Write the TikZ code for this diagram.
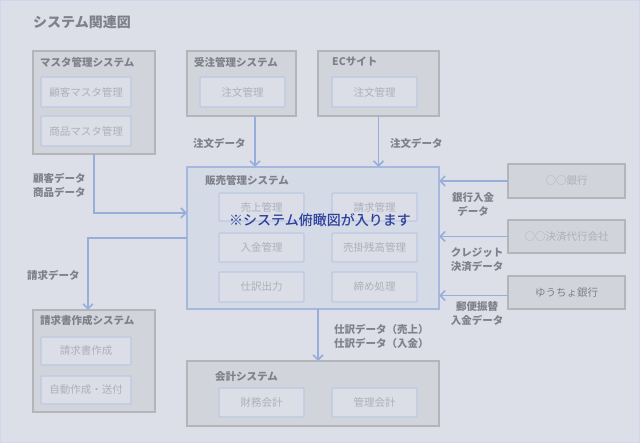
\documentclass[tikz,border=0pt]{standalone}
\usepackage{fontspec}
\setmainfont{Noto Sans CJK JP}
\newfontfamily\medjp{Noto Sans CJK JP}[UprightFont=* Medium]
\usetikzlibrary{arrows.meta}
\definecolor{bg}{HTML}{DCDFE8}
\definecolor{edge}{HTML}{D0D7EC}
\definecolor{outerfill}{HTML}{D2D4DC}
\definecolor{outerdraw}{HTML}{B3B5BB}
\definecolor{innerfill}{HTML}{DBDEE7}
\definecolor{innerdraw}{HTML}{BCC8E3}
\definecolor{innertext}{HTML}{ADB0B8}
\definecolor{titletext}{HTML}{7E8189}
\definecolor{arrowcol}{HTML}{97AEDA}
\definecolor{salesfill}{HTML}{D5DAE7}
\definecolor{salesdraw}{HTML}{A6B8DE}
\definecolor{overlaytext}{HTML}{2D409C}
\tikzset{
  x=1pt, y=-1pt,
  outerbox/.style={anchor=north west, inner sep=0pt, outer sep=0pt, fill=outerfill, draw=outerdraw, line width=1.8pt},
  salesbox/.style={anchor=north west, inner sep=0pt, outer sep=0pt, fill=salesfill, draw=salesdraw, line width=1.8pt},
  innerbox/.style={anchor=north west, inner sep=0pt, outer sep=0pt, fill=innerfill, draw=innerdraw, line width=1.2pt, rounded corners=1pt, text=innertext, font=\fontsize{10.5}{12}\selectfont},
  boxtitle/.style={anchor=west, inner sep=0pt, text=titletext, font=\fontsize{10.5}{12}\selectfont\bfseries},
  lbl/.style={inner sep=0pt, text=titletext, font=\fontsize{10.5}{14}\selectfont\bfseries},
  arr/.style={draw=arrowcol, line width=1.8pt, -{Straight Barb[length=5pt,width=10pt,line width=1.6pt]}},
}
\begin{document}
\begin{tikzpicture}
\useasboundingbox (0,0) rectangle (640,443);
\fill[bg] (0,0) rectangle (640,443);
\draw[edge, line width=1pt] (0.5,0.5) rectangle (639.5,442.5);

\node[anchor=west, inner sep=0pt, text=titletext, font=\fontsize{14}{16}\selectfont\bfseries] (title) at (33,22) {システム関連図};

% master
\node[outerbox, minimum width=122pt, minimum height=103pt] (m) at (33,51) {};
\node[boxtitle] (mt) at (40,62) {マスタ管理システム};
\node[innerbox, minimum width=90pt, minimum height=30pt] (m1) at (41,77) {顧客マスタ管理};
\node[innerbox, minimum width=90pt, minimum height=30pt] (m2) at (41,116) {商品マスタ管理};

% order
\node[outerbox, minimum width=109pt, minimum height=65pt] (o) at (187,51) {};
\node[boxtitle] (ot) at (194,62) {受注管理システム};
\node[innerbox, minimum width=85pt, minimum height=30pt] (o1) at (200,77) {注文管理};

% EC
\node[outerbox, minimum width=121pt, minimum height=65pt] (e) at (318,51) {};
\node[boxtitle] (et) at (332,62) {ECサイト};
\node[innerbox, minimum width=85pt, minimum height=30pt] (e1) at (332,77) {注文管理};

% sales
\node[salesbox, minimum width=252pt, minimum height=142pt] (s) at (187,167) {};
\node[boxtitle] (st) at (205,180) {販売管理システム};
\node[innerbox, minimum width=85pt, minimum height=28pt] (s1) at (219,193) {売上管理};
\node[innerbox, minimum width=85pt, minimum height=28pt] (s2) at (332,193) {請求管理};
\node[innerbox, minimum width=85pt, minimum height=29pt] (s3) at (219,233) {入金管理};
\node[innerbox, minimum width=85pt, minimum height=29pt] (s4) at (332,233) {売掛残高管理};
\node[innerbox, minimum width=85pt, minimum height=30pt] (s5) at (219,272) {仕訳出力};
\node[innerbox, minimum width=85pt, minimum height=30pt] (s6) at (332,272) {締め処理};
\node[inner sep=0pt, text=overlaytext, font=\fontsize{14}{16}\selectfont\medjp] (ov) at (320,220) {※システム俯瞰図が入ります};

% banks
\node[outerbox, minimum width=117pt, minimum height=34pt, text=innertext, font=\fontsize{10.5}{12}\selectfont] (b1) at (508,164) {○○銀行};
\node[outerbox, minimum width=117pt, minimum height=33pt, text=innertext, font=\fontsize{10.5}{12}\selectfont] (b2) at (508,220) {○○決済代行会社};
\node[outerbox, minimum width=117pt, minimum height=33pt, text=titletext, font=\fontsize{10.5}{12}\selectfont] (b3) at (508,276) {ゆうちょ銀行};

% invoice
\node[outerbox, minimum width=122pt, minimum height=102pt] (i) at (33,310) {};
\node[boxtitle] (it) at (40,321) {請求書作成システム};
\node[innerbox, minimum width=90pt, minimum height=28pt] (i1) at (41,337) {請求書作成};
\node[innerbox, minimum width=90pt, minimum height=28pt] (i2) at (41,376) {自動作成・送付};

% accounting
\node[outerbox, minimum width=252pt, minimum height=65pt] (a) at (187,361) {};
\node[boxtitle] (at) at (215,377) {会計システム};
\node[innerbox, minimum width=85pt, minimum height=29pt] (a1) at (219,388) {財務会計};
\node[innerbox, minimum width=85pt, minimum height=29pt] (a2) at (332,388) {管理会計};

% connectors
\draw[arr] ([xshift=13.5pt]o.south) -- ([xshift=13.5pt]o.south |- s.north);
\draw[arr] (e.south) -- (e.south |- s.north);
\draw[arr] (m.south) |- ([yshift=25pt]s.west);
\draw[arr] (s.west) -| ([xshift=-6pt]i.north);
\draw[arr] ([xshift=5pt]s.south) -- ([xshift=5pt]a.north);
\draw[arr] (b1.west) -- (b1.west -| s.east);
\draw[arr] (b2.west) -- (b2.west -| s.east);
\draw[arr] ([yshift=-3pt]b3.west) -- ([yshift=-3pt]b3.west -| s.east);

% labels
\node[lbl, anchor=west] (l1) at (193,143) {注文データ};
\node[lbl, anchor=west] (l2) at (390,143) {注文データ};
\node[lbl, anchor=west, align=left] (l3) at (33,185) {顧客データ\\商品データ};
\node[lbl, anchor=west] (l4) at (27,275) {請求データ};
\node[lbl, align=center] (l5) at (473,204) {銀行入金\\データ};
\node[lbl, align=center] (l6) at (477,260) {クレジット\\決済データ};
\node[lbl, align=center] (l7) at (477,314) {郵便振替\\入金データ};
\node[lbl, anchor=west, align=left] (l8) at (334,336) {仕訳データ（売上）\\仕訳データ（入金）};
\end{tikzpicture}
\end{document}
